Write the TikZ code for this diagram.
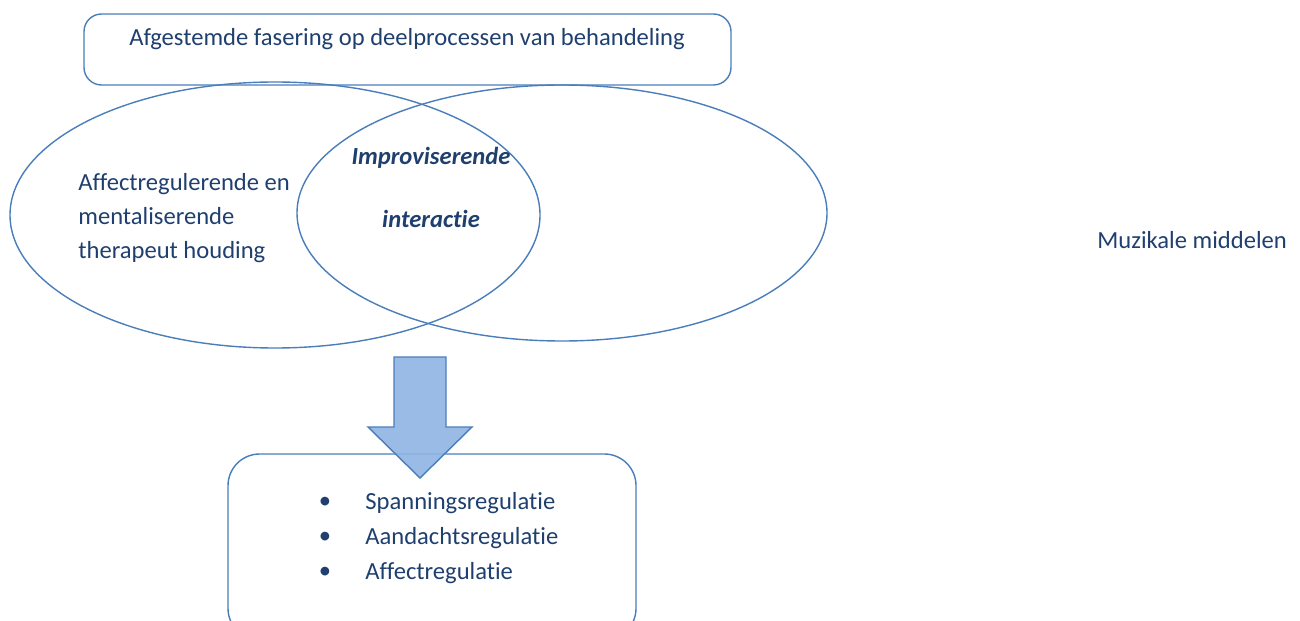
\documentclass[tikz,border=0pt]{standalone}
\usepackage{fontspec}
\setmainfont{Carlito}[Ligatures={NoCommon}]
\usepackage{tikz}
\usetikzlibrary{positioning, calc}
\definecolor{lineblue}{HTML}{4A7EBB}
\definecolor{textblue}{HTML}{1F3F6E}
\definecolor{arrowblue}{HTML}{8EB4E3}
\tikzset{ x=0.02cm, y=-0.02cm,
  box/.style={draw=lineblue, line width=0.8pt, rounded corners=#1},
  oval/.style={draw=lineblue, line width=0.8pt},
  txt/.style={text=textblue, font=\fontsize{14}{17}\selectfont, inner sep=0pt},
  item/.style={txt, anchor=west} }

\begin{document}
\begin{tikzpicture}
\useasboundingbox (0,0) rectangle (1300,621);
\draw[box=10pt] (84,14) rectangle (731,85);
\node[txt] (fase) at (407,39) {Afgestemde fasering op deelprocessen van behandeling};
\draw[oval] (275,215) coordinate(L) ellipse[x radius=265, y radius=133];
\draw[oval] (562,213) coordinate(R) ellipse[x radius=265, y radius=128];
\node[txt, align=left, anchor=west, font=\fontsize{14}{19.3}\selectfont] (houding) at (78,218)
  {Affectregulerende en\\mentaliserende\\therapeut houding};
\node[txt, font=\fontsize{14}{17}\bfseries\itshape\selectfont] (impro) at (431,158) {Improviserende};
\node[txt, font=\fontsize{14}{17}\bfseries\itshape\selectfont] (inter) at (431,219) {interactie};
\node[txt, anchor=west] (muziek) at (1097,240) {Muzikale middelen};
% resultaat
\draw[box=18pt] (228,454) rectangle (636,640);
\foreach \y/\t [count=\i] in {503/Spanningsregulatie, 538/Aandachtsregulatie, 573/Affectregulatie}{
  \node[txt] (dot\i) at (325,\y) {\textbullet};
  \node[item] (reg\i) at (365,\y) {\t};
}
% pijl
\draw[draw=lineblue, fill=arrowblue, fill opacity=0.9, line width=0.8pt]
  (394,357) -- (446,357) -- (446,427) -- (472,427) -- (420,478) -- (368,427) -- (394,427) -- cycle;
\end{tikzpicture}
\end{document}
